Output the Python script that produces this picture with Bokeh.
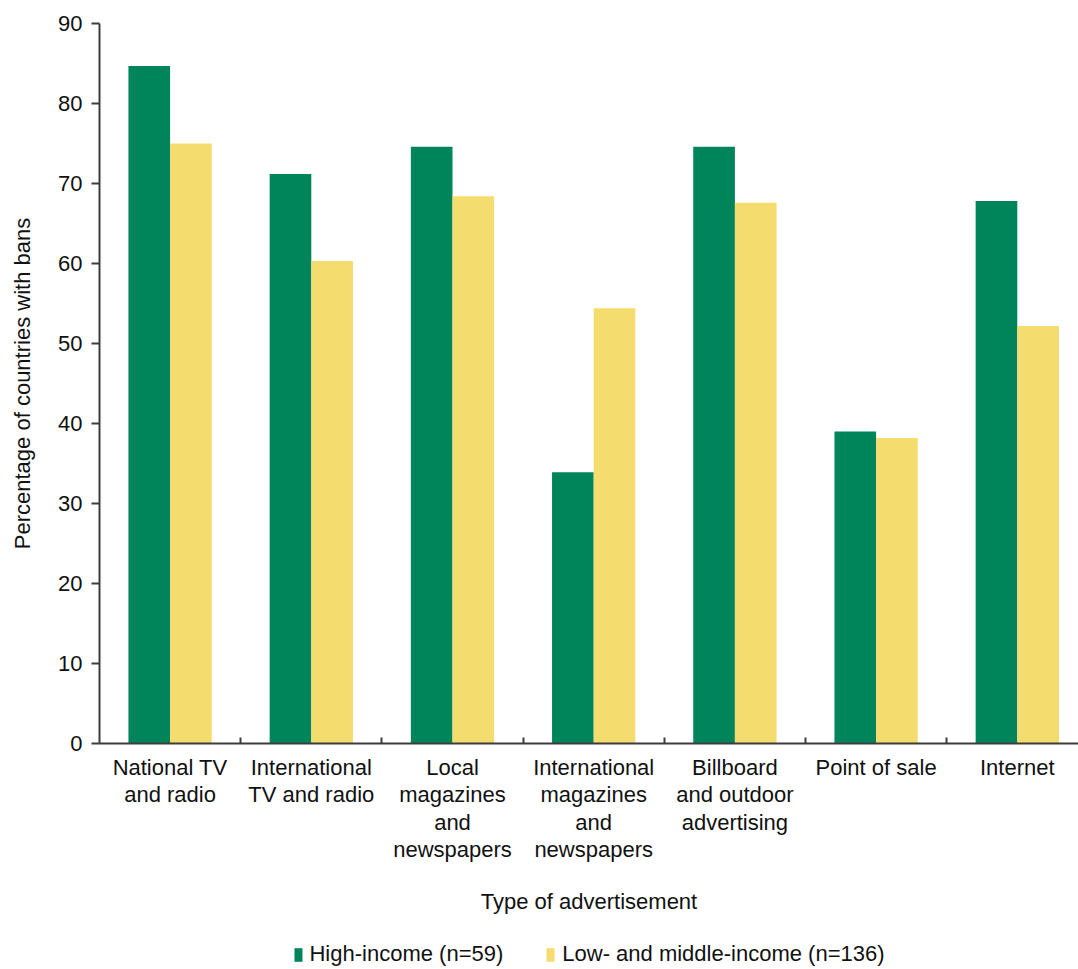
from bokeh.plotting import figure
from bokeh.layouts import column
from bokeh.models import (Range1d, FixedTicker, LinearAxis, Legend, LegendItem)
from bokeh.embed import file_html
from bokeh.resources import INLINE

# ---- data ----
categories = ["National TV\nand radio",
              "International\nTV and radio",
              "Local\nmagazines\nand\nnewspapers",
              "International\nmagazines\nand\nnewspapers",
              "Billboard\nand outdoor\nadvertising",
              "Point of sale",
              "Internet"]
high_income = [84.7, 71.2, 74.6, 33.9, 74.6, 39.0, 67.8]
low_middle_income = [75.0, 60.3, 68.4, 54.4, 67.6, 38.2, 52.2]
series_names = ["High-income (n=59)", "Low- and middle-income (n=136)"]
y_ticks = [0, 10, 20, 30, 40, 50, 60, 70, 80, 90]
x_title = "Type of advertisement"
y_title = "Percentage of countries with bans"

# ---- styles ----
GREEN = "#00855A"
YELLOW = "#F5DC6E"
TEXT = "#111111"
AXIS = "#3c3c3c"
FONT = "Liberation Sans"
FS = "22px"

W = 1078
LEG_H = 30
H = 969 - LEG_H
LEFT, TOP = 99, 23
BOTTOM = H - 743
cat_px = 141.2
x_end = (W - LEFT) / cat_px
bar_w = 0.295

p = figure(width=W, height=H, output_backend="svg", toolbar_location=None,
           x_range=Range1d(0, x_end), y_range=Range1d(0, 90),
           x_axis_type=None, y_axis_type=None,
           min_border_left=LEFT, min_border_right=0,
           min_border_top=TOP, min_border_bottom=BOTTOM)
p.outline_line_color = None
p.background_fill_color = "white"
p.border_fill_color = "white"

n = len(categories)
centers = [i + 0.5 for i in range(n)]
bounds = [float(i) for i in range(1, n)]
x_high = [c - bar_w / 2 for c in centers]
x_low = [c + bar_w / 2 for c in centers]

p.vbar(x=x_high, top=high_income, width=bar_w, fill_color=GREEN, line_color=None)
p.vbar(x=x_low, top=low_middle_income, width=bar_w, fill_color=YELLOW, line_color=None)

# y axis
yax = LinearAxis(ticker=FixedTicker(ticks=y_ticks))
yax.axis_line_color = AXIS
yax.axis_line_width = 2
yax.major_tick_line_color = AXIS
yax.major_tick_line_width = 2
yax.major_tick_out = 8
yax.major_tick_in = 0
yax.minor_tick_line_color = None
yax.major_label_standoff = 9
yax.major_label_text_font = FONT
yax.major_label_text_font_size = FS
yax.major_label_text_color = TEXT
yax.axis_label = y_title
yax.axis_label_text_font = FONT
yax.axis_label_text_font_size = FS
yax.axis_label_text_font_style = "normal"
yax.axis_label_text_color = TEXT
yax.axis_label_standoff = 20
p.add_layout(yax, "left")

# x axis: labels at category centres, small ticks at category boundaries
xax = LinearAxis(ticker=FixedTicker(ticks=centers, minor_ticks=bounds))
xax.axis_line_color = AXIS
xax.axis_line_width = 2
xax.major_tick_line_color = None
xax.major_tick_in = 0
xax.major_tick_out = 0
xax.minor_tick_line_color = AXIS
xax.minor_tick_line_width = 2
xax.minor_tick_in = 6
xax.minor_tick_out = 0
xax.major_label_overrides = {c: name for c, name in zip(centers, categories)}
xax.major_label_standoff = 11
xax.major_label_text_font = FONT
xax.major_label_text_font_size = FS
xax.major_label_text_color = TEXT
xax.major_label_text_line_height = 1.10
xax.axis_label = x_title
xax.axis_label_text_font = FONT
xax.axis_label_text_font_size = FS
xax.axis_label_text_font_style = "normal"
xax.axis_label_text_color = TEXT
xax.axis_label_standoff = 24
p.add_layout(xax, "below")

# legend strip underneath: same series drawn far out of view so only the legend shows
lf = figure(width=W, height=LEG_H, output_backend="svg", toolbar_location=None,
            x_range=Range1d(0, x_end), y_range=Range1d(1000, 1001),
            x_axis_type=None, y_axis_type=None,
            min_border_left=LEFT, min_border_right=0,
            min_border_top=0, min_border_bottom=0)
lf.outline_line_color = None
lf.grid.visible = False
lf.title.visible = False
rh = lf.vbar(x=x_high, top=high_income, width=bar_w, fill_color=GREEN, line_color=None)
rl = lf.vbar(x=x_low, top=low_middle_income, width=bar_w, fill_color=YELLOW, line_color=None)
legend = Legend(items=[LegendItem(label=series_names[0], renderers=[rh]),
                       LegendItem(label=series_names[1], renderers=[rl])],
                orientation="horizontal", location="center",
                glyph_width=10, glyph_height=17, label_standoff=7, spacing=42,
                padding=0, margin=0, border_line_color=None,
                background_fill_alpha=0,
                label_text_font=FONT, label_text_font_size=FS,
                label_text_color=TEXT)
lf.add_layout(legend, "center")

layout = column(p, lf, spacing=0)
open("out.html", "w").write(file_html(layout, INLINE))
